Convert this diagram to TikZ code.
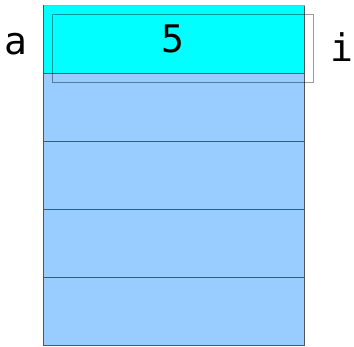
\documentclass[tikz,border=0pt]{standalone}
\usepackage{fontspec}
\setmainfont{DejaVu Sans Mono}
\definecolor{cellblue}{HTML}{99CCFF}
\definecolor{cellcyan}{HTML}{00FFFF}
\definecolor{edge}{HTML}{555555}
\definecolor{topedge}{HTML}{AAAAAA}
\tikzset{
  cell/.style={draw=edge, line width=1pt, minimum width=261pt, minimum height=68pt, inner sep=0pt, outer sep=0pt, anchor=north west},
  lbl/.style={font=\fontsize{38pt}{40pt}\selectfont, inner sep=0pt, anchor=base}
}
\begin{document}
\begin{tikzpicture}[x=1pt,y=-1pt]
\useasboundingbox (0,0) rectangle (354,347);
\node[cell, fill=cellblue] (c5) at (43.5,278) {};
\node[cell, fill=cellblue] (c4) at (43.5,210) {};
\node[cell, fill=cellblue] (c3) at (43.5,142) {};
\node[cell, fill=cellblue] (c2) at (43.5,74) {};
\node[cell, fill=cellcyan] (c1) at (43.5,6) {};
\draw[topedge, line width=1pt] (c1.north west) -- (c1.north east);
\node[draw=black, draw opacity=0.4, line width=1pt, minimum width=261pt, minimum height=68pt, inner sep=0pt, anchor=north west] (sel) at (51.5,14) {};
\node[lbl] (v) at (173,53) {5};
\node[lbl] (a) at (16,55) {a};
\node[lbl] (i) at (342,62) {i};
\end{tikzpicture}
\end{document}
